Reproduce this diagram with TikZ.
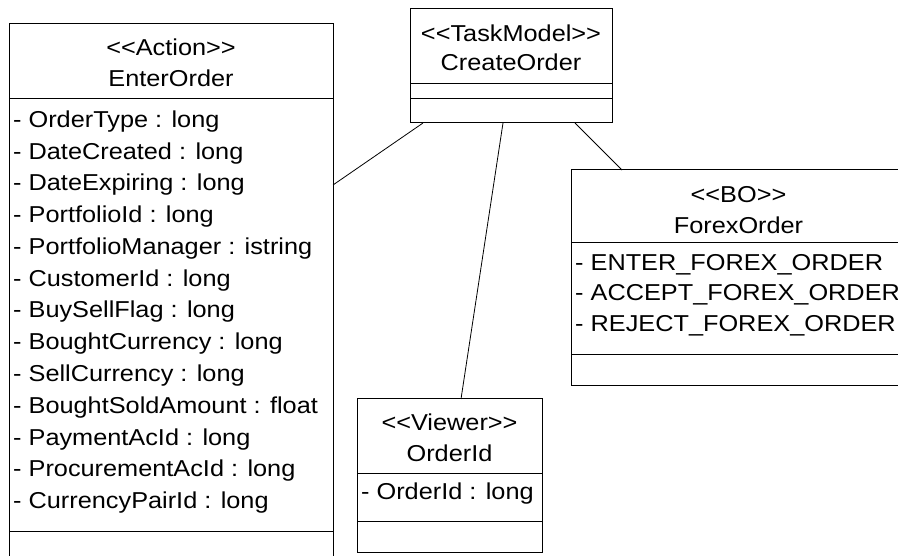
\documentclass[tikz,border=0pt]{standalone}
\usepackage{fontspec}
\setmainfont{Liberation Sans}[FakeStretch=1.1]
\usetikzlibrary{positioning}

\tikzset{
  classbox/.style={draw,line width=1pt,rectangle,inner sep=0pt,outer sep=0pt,anchor=north west},
  classname/.style={font=\fontsize{23}{23}\selectfont,anchor=base,inner sep=0pt},
  attr/.style={font=\fontsize{23}{23}\selectfont,anchor=base west,inner sep=0pt},
  link/.style={line width=0.8pt}
}

\begin{document}
\begin{tikzpicture}[x=1pt,y=-1pt]
  \useasboundingbox (0,0) rectangle (898,556);

  % EnterOrder
  \node[classbox,minimum width=324pt,minimum height=540pt] (enterorder) at (9,24) {};
  \draw[line width=1pt] (9,99) -- (333,99);
  \draw[line width=1pt] (9,531) -- (333,531);
  \node[classname] (enterorder-st) at (171,56) {<{}<Action>{}>};
  \node[classname] (enterorder-name) at (171,87) {EnterOrder};
  \foreach \t [count=\i from 0] in {- OrderType : long,- DateCreated : long,- DateExpiring : long,
      - PortfolioId : long,- PortfolioManager : istring,- CustomerId : long,- BuySellFlag : long,
      - BoughtCurrency : long,- SellCurrency : long,- BoughtSoldAmount : float,- PaymentAcId : long,
      - ProcurementAcId : long,- CurrencyPairId : long}
    \node[attr] (enterorder-a\i) at (13,{127.5+31.75*\i}) {\t};

  % CreateOrder
  \node[classbox,minimum width=202pt,minimum height=114pt] (createorder) at (410,9) {};
  \draw[line width=1pt] (410,84) -- (612,84);
  \draw[line width=1pt] (410,99) -- (612,99);
  \node[classname] (createorder-st) at (511,41.5) {<{}<TaskModel>{}>};
  \node[classname] (createorder-name) at (511,71) {CreateOrder};

  % ForexOrder
  \node[classbox,minimum width=335pt,minimum height=216pt] (forexorder) at (571,170) {};
  \draw[line width=1pt] (571,243) -- (906,243);
  \draw[line width=1pt] (571,355) -- (906,355);
  \node[classname] (forexorder-st) at (738.5,203) {<{}<BO>{}>};
  \node[classname] (forexorder-name) at (738.5,234) {ForexOrder};
  \node[attr] (forexorder-a0) at (575,270.5) {- ENTER\_FOREX\_ORDER};
  \node[attr] (forexorder-a1) at (575,301) {- ACCEPT\_FOREX\_ORDER};
  \node[attr] (forexorder-a2) at (575,331.5) {- REJECT\_FOREX\_ORDER};

  % OrderId
  \node[classbox,minimum width=185pt,minimum height=153pt] (orderid) at (357,399) {};
  \draw[line width=1pt] (357,473) -- (542,473);
  \draw[line width=1pt] (357,521) -- (542,521);
  \node[classname] (orderid-st) at (449.5,431) {<{}<Viewer>{}>};
  \node[classname] (orderid-name) at (449.5,461) {OrderId};
  \node[attr] (orderid-a0) at (361,499) {- OrderId : long};

  % associations
  \draw[link] ([xshift=13pt]createorder.south west) -- ([yshift=-161pt]enterorder.north east);
  \draw[link] ([xshift=-8pt]createorder.south) -- ([xshift=11.5pt]orderid.north);
  \draw[link] ([xshift=-37pt]createorder.south east) -- ([xshift=51pt]forexorder.north west);
\end{tikzpicture}
\end{document}
